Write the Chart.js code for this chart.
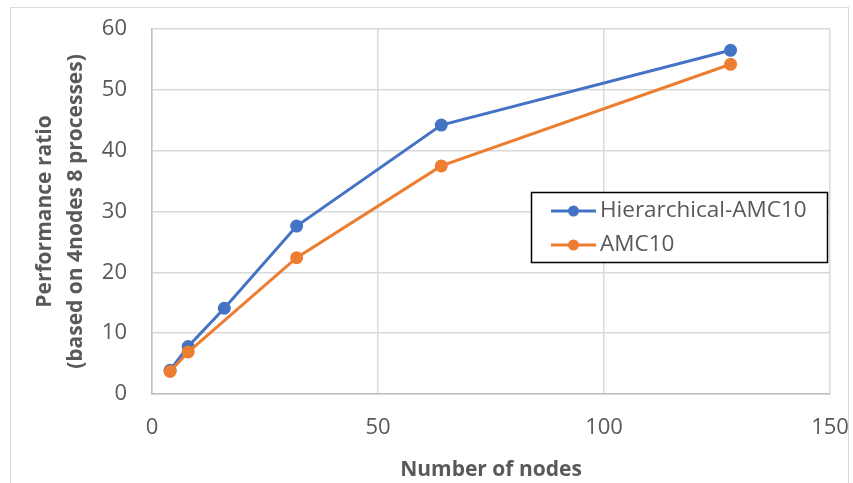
<!DOCTYPE html>
<html>
<head>
<meta charset="utf-8">
<script src="https://cdn.jsdelivr.net/npm/chart.js@4"></script>
<style>
  html, body { margin: 0; padding: 0; background: #ffffff; }
  #wrap { width: 853px; height: 483px; position: relative; }
</style>
</head>
<body>
<div id="wrap"><canvas id="chart" width="853" height="483"></canvas></div>
<script>
// Scaling results: performance ratio versus number of nodes
const nodesHierarchical = [4, 8, 16, 32, 64, 128];
const ratioHierarchical = [3.9, 7.8, 14.1, 27.6, 44.2, 56.5];
const nodesAmc = [4, 8, 32, 64, 128];
const ratioAmc = [3.7, 6.9, 22.4, 37.5, 54.2];

const xTicks = [0, 50, 100, 150];
const yTicks = [0, 10, 20, 30, 40, 50, 60];

const seriesNames = ['Hierarchical-AMC10', 'AMC10'];
const seriesColors = ['#4472C4', '#ED7D31'];

const FONT = '"Open Sans", "Noto Sans", sans-serif';
const TEXT = '#595959';

function toPoints(xs, ys) {
  return xs.map((x, i) => ({ x: x, y: ys[i] }));
}

// Outer frame and boxed legend drawn on the canvas
const framePlugin = {
  id: 'frame',
  beforeDraw(chart) {
    const ctx = chart.ctx;
    ctx.save();
    ctx.fillStyle = '#ffffff';
    ctx.fillRect(0, 0, chart.width, chart.height);
    ctx.strokeStyle = '#d9d9d9';
    ctx.lineWidth = 1;
    ctx.strokeRect(10.5, 7.5, 838, 500);
    ctx.restore();
  },
  afterDraw(chart) {
    const ctx = chart.ctx;
    const box = { x: 531.5, y: 192.5, w: 296, h: 70 };
    ctx.save();
    ctx.fillStyle = '#ffffff';
    ctx.fillRect(box.x, box.y, box.w, box.h);
    ctx.strokeStyle = '#000000';
    ctx.lineWidth = 1.5;
    ctx.strokeRect(box.x, box.y, box.w, box.h);
    const rows = [211, 245];
    chart.data.datasets.forEach((ds, i) => {
      const y = rows[i];
      ctx.strokeStyle = ds.borderColor;
      ctx.lineWidth = 3;
      ctx.beginPath();
      ctx.moveTo(551, y);
      ctx.lineTo(596, y);
      ctx.stroke();
      ctx.fillStyle = ds.backgroundColor;
      ctx.beginPath();
      ctx.arc(573.5, y, 5.5, 0, Math.PI * 2);
      ctx.fill();
      ctx.fillStyle = TEXT;
      ctx.font = '22.5px ' + FONT;
      ctx.textBaseline = 'middle';
      ctx.textAlign = 'left';
      ctx.fillText(ds.label, 600, y);
    });
    ctx.restore();
  }
};

// Keep the plot area fixed: scales do not reserve room for overhanging labels
function noScalePadding(scale) {
  scale.paddingTop = 0;
  scale.paddingBottom = 0;
  scale.paddingLeft = 0;
  scale.paddingRight = 0;
}

new Chart(document.getElementById('chart'), {
  type: 'line',
  data: {
    datasets: [
      {
        label: seriesNames[0],
        data: toPoints(nodesHierarchical, ratioHierarchical),
        borderColor: seriesColors[0],
        backgroundColor: seriesColors[0],
        borderWidth: 3,
        pointRadius: 6.5,
        pointHoverRadius: 6.5,
        pointBorderWidth: 0,
        tension: 0,
        order: 1
      },
      {
        label: seriesNames[1],
        data: toPoints(nodesAmc, ratioAmc),
        borderColor: seriesColors[1],
        backgroundColor: seriesColors[1],
        borderWidth: 3,
        pointRadius: 6.5,
        pointHoverRadius: 6.5,
        pointBorderWidth: 0,
        tension: 0,
        order: 0
      }
    ]
  },
  options: {
    responsive: false,
    animation: false,
    events: [],
    layout: { padding: { left: 20, top: 29, right: 23, bottom: 0 } },
    plugins: {
      legend: { display: false },
      tooltip: { enabled: false }
    },
    scales: {
      x: {
        type: 'linear',
        min: 0,
        max: 150,
        afterBuildTicks(scale) { scale.ticks = xTicks.map(v => ({ value: v })); },
        afterFit(scale) { scale.height = 89; noScalePadding(scale); },
        grid: { color: '#d9d9d9', lineWidth: 1.5, drawTicks: false },
        border: { color: '#bfbfbf', width: 1.5 },
        ticks: { color: TEXT, font: { family: FONT, size: 22 }, padding: 21 },
        title: {
          display: true,
          text: 'Number of nodes',
          color: TEXT,
          font: { family: FONT, size: 21, weight: 'bold' },
          padding: { top: 8, bottom: 0 }
        }
      },
      y: {
        type: 'linear',
        min: 0,
        max: 60,
        afterBuildTicks(scale) { scale.ticks = yTicks.map(v => ({ value: v })); },
        afterFit(scale) { scale.width = 132; noScalePadding(scale); },
        grid: { color: '#d9d9d9', lineWidth: 1.5, drawTicks: false },
        border: { color: '#bfbfbf', width: 1.5 },
        ticks: { color: TEXT, font: { family: FONT, size: 22 }, padding: 25 },
        title: {
          display: true,
          text: ['Performance ratio', '(based on 4nodes 8 processes)'],
          color: TEXT,
          font: { family: FONT, size: 21, weight: 'bold', lineHeight: 1.45 },
          padding: { top: 10, bottom: 0 }
        }
      }
    }
  },
  plugins: [framePlugin]
});
</script>
</body>
</html>
